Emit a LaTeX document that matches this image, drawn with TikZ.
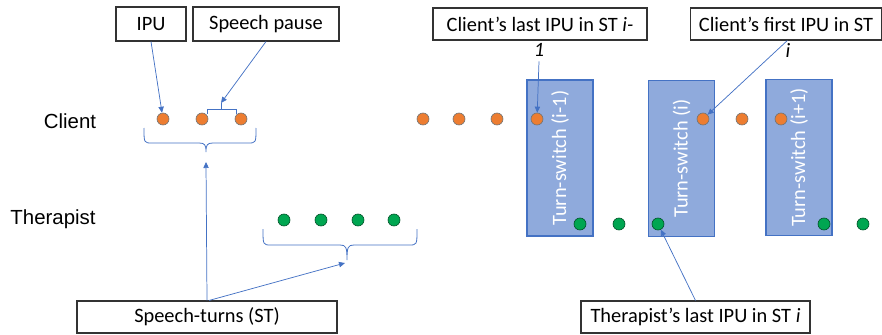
\documentclass[tikz,border=0pt]{standalone}
\usepackage{fontspec}
\setmainfont{Carlito}
\newfontfamily\arialfont{Liberation Sans}
\usetikzlibrary{arrows.meta}
\definecolor{cborange}{HTML}{ED7D31}
\definecolor{cbgreen}{HTML}{00A651}
\definecolor{cbblue}{HTML}{4472C4}
\definecolor{cbfill}{HTML}{8FAADC}
\begin{document}
\begin{tikzpicture}[x=0.75pt,y=-0.75pt,
  lbox/.style={draw=black!80, line width=0.8pt, fill=white, inner sep=0pt, font=\fontsize{15.3}{18}\selectfont},
  tsbox/.style={draw=cbblue, line width=0.8pt, fill=cbfill, rotate=90, inner sep=0pt,
     minimum width=117pt, minimum height=49.5pt, text=white, font=\fontsize{15.3}{18}\selectfont},
  cdot/.style={circle, draw=black!55, line width=0.5pt, fill=cborange, minimum size=9pt, inner sep=0pt},
  tdot/.style={circle, draw=black!50!cbgreen, line width=0.5pt, fill=cbgreen, minimum size=9pt, inner sep=0pt},
  arr/.style={draw=cbblue, line width=0.55pt, -{Triangle[length=4.5pt,width=4pt]}},
  bracepath/.style={draw=cbblue, line width=0.6pt},
  spk/.style={font=\arialfont\fontsize{15.3}{18}\selectfont}]
\useasboundingbox (0,0) rectangle (882,335);

% speaker labels
\node[spk] (client) at (70,121) {Client};
\node[spk] (therapist) at (53,219) {Therapist};

% label boxes
\node[lbox, minimum width=52.5pt, minimum height=25.5pt] (ipu) at (151,24) {IPU};
\node[lbox, minimum width=109.5pt, minimum height=25.5pt] (pause) at (266,24) {Speech pause};
\node[lbox, minimum width=160.5pt, minimum height=24pt] (clast) at (540,24) {Client’s last IPU in ST \textit{i-}};
\node[font=\fontsize{15.3}{18}\selectfont] (clastone) at (539,50) {\textit{1}};
\node[lbox, minimum width=143pt, minimum height=24pt] (cfirst) at (786,24) {Client’s first IPU in ST};
\node[font=\fontsize{15.3}{18}\selectfont] (cfirsti) at (788,50) {\textit{i}};
\node[lbox, minimum width=195pt, minimum height=24pt] (st) at (207,317) {Speech-turns (ST)};
\node[lbox, minimum width=171.75pt, minimum height=24pt] (tlast) at (695.5,317) {Therapist’s last IPU in ST \textit{i}};

% turn-switch boxes
\node[tsbox] (ts1) at (560,158) {Turn-switch (i-1)};
\node[tsbox] (ts2) at (681.5,158.5) {Turn-switch (i)};
\node[tsbox] (ts3) at (799,157.5) {Turn-switch (i+1)};

% client dots
\node[cdot] (c1) at (163,119) {};
\node[cdot] (c2) at (202,119) {};
\node[cdot] (c3) at (241,119) {};
\node[cdot] (c4) at (423,119) {};
\node[cdot] (c5) at (459,119) {};
\node[cdot] (c6) at (497,119) {};
\node[cdot] (c7) at (537,119) {};
\node[cdot] (c8) at (703,119) {};
\node[cdot] (c9) at (742,119) {};
\node[cdot] (c10) at (781,119) {};

% therapist dots
\node[tdot] (t1) at (284,220) {};
\node[tdot] (t2) at (321,220) {};
\node[tdot] (t3) at (358,220) {};
\node[tdot] (t4) at (394,220) {};
\node[tdot] (t5) at (580,224) {};
\node[tdot] (t6) at (619,224) {};
\node[tdot] (t7) at (658,224) {};
\node[tdot] (t8) at (824,224) {};
\node[tdot] (t9) at (863,224) {};

% speech pause bracket
\coordinate (pausetip) at (221,103);
\draw[bracepath] (207,114) -- (207,109) -- (236,109) -- (236,114);
\draw[bracepath] (221,109) -- (pausetip);

% client brace
\coordinate (cbracetip) at (206,152);
\draw[bracepath] (144,128) .. controls (144,143) and (144,143) .. (152,143) -- (199,143)
  .. controls (205,143) and (206,145) .. (cbracetip)
  .. controls (206,145) and (207,143) .. (213,143) -- (248,143)
  .. controls (256,143) and (256,143) .. (256,128);

% therapist brace
\coordinate (tbracetip) at (347,260);
\draw[bracepath] (263,229) .. controls (263,245) and (263,245) .. (271,245) -- (340,245)
  .. controls (346,245) and (347,247) .. (tbracetip)
  .. controls (347,247) and (348,245) .. (354,245) -- (409,245)
  .. controls (417,245) and (417,245) .. (417,229);

% arrows
\coordinate (stcl) at (206,162);
\coordinate (stth) at (345,263);
\draw[arr] (st.north) -- (stcl);
\draw[arr] ([xshift=1.5pt]st.north) -- (stth);
\draw[arr] (ipu.south) -- (c1);
\draw[arr] (pause.south) -- (pausetip);
\draw[arr] (clastone.south) -- (c7);
\draw[arr] ([xshift=1pt]cfirst.south) -- (c8);
\draw[arr] (tlast.north) -- (t7);
\end{tikzpicture}
\end{document}
